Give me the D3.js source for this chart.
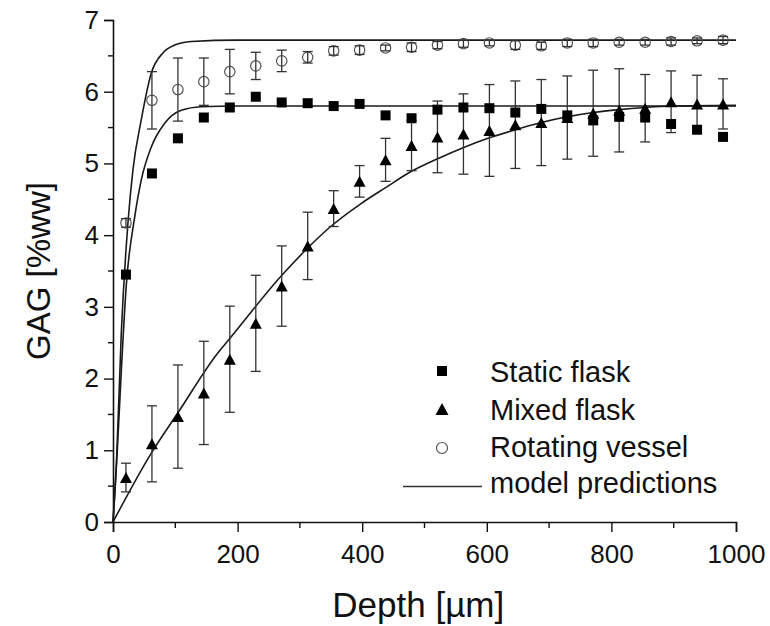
<!DOCTYPE html>
<html>
<head>
<meta charset="utf-8">
<script src="https://cdn.jsdelivr.net/npm/d3@7/dist/d3.min.js"></script>
<style>
  html, body { margin: 0; padding: 0; background: #fff; }
  svg { display: block; }
  text { font-family: "Liberation Sans", Arial, Helvetica, sans-serif; fill: #111; }
</style>
</head>
<body>
<svg id="chart" width="770" height="626"></svg>
<script>
// Depth of each measured slice [µm]
const depth = [20.8, 62.5, 104.2, 145.8, 187.5, 229.2, 270.8, 312.5, 354.2, 395.8, 437.5, 479.2,
               520.8, 562.5, 604.2, 645.8, 687.5, 729.2, 770.8, 812.5, 854.2, 895.8, 937.5, 979.2];

// GAG content [%ww] per slice
const staticFlask = [3.45, 4.86, 5.35, 5.64, 5.78, 5.93, 5.85, 5.84, 5.80, 5.83, 5.67, 5.63,
                     5.75, 5.78, 5.77, 5.71, 5.76, 5.67, 5.60, 5.65, 5.64, 5.55, 5.47, 5.37];

const mixedFlask = [0.62, 1.09, 1.47, 1.80, 2.27, 2.77, 3.29, 3.85, 4.37, 4.75, 5.05, 5.25,
                    5.37, 5.41, 5.46, 5.54, 5.57, 5.64, 5.70, 5.74, 5.77, 5.86, 5.83, 5.83];
const mixedErr   = [0.20, 0.53, 0.72, 0.72, 0.74, 0.67, 0.56, 0.47, 0.25, 0.22, 0.30, 0.35,
                    0.50, 0.56, 0.64, 0.61, 0.60, 0.58, 0.60, 0.58, 0.47, 0.43, 0.40, 0.35];

const rotatingVessel = [4.17, 5.88, 6.03, 6.14, 6.28, 6.36, 6.43, 6.48, 6.57, 6.58, 6.61, 6.62,
                        6.65, 6.67, 6.68, 6.65, 6.64, 6.68, 6.68, 6.69, 6.69, 6.70, 6.71, 6.72];
const rotatingErr    = [0.06, 0.40, 0.44, 0.33, 0.31, 0.19, 0.15, 0.08, 0.06, 0.06, 0.04, 0.06,
                        0.05, 0.05, 0.04, 0.06, 0.05, 0.05, 0.05, 0.04, 0.04, 0.05, 0.04, 0.05];

// Model prediction curves: [depth, GAG]
const modelStatic = [[0, 0], [6.9, 1.0], [13.3, 2.1], [21.3, 3.3], [34.8, 4.25], [45.4, 4.77],
                     [61.5, 5.23], [83, 5.56], [109.6, 5.74], [141.7, 5.79], [200, 5.80], [1000, 5.80]];
const modelRotating = [[0, 0], [5.3, 0.77], [13.3, 2.63], [24, 4.17], [32, 4.91], [45.4, 5.61],
                       [61.5, 6.26], [80, 6.54], [99, 6.65], [125.7, 6.70], [200, 6.72], [1000, 6.72]];
const modelMixed = [[0, 0], [61.5, 0.96], [104, 1.52], [168.5, 2.36], [187.5, 2.56], [271, 3.44],
                    [312.5, 3.82], [348, 4.11], [396.5, 4.43], [439, 4.67], [479, 4.89], [522, 5.07],
                    [562, 5.22], [602, 5.35], [646, 5.47], [687.5, 5.57], [729, 5.65], [771, 5.71],
                    [812, 5.75], [854, 5.78], [896, 5.80], [1000, 5.81]];

const xTicks = [0, 200, 400, 600, 800, 1000];
const yTicks = [0, 1, 2, 3, 4, 5, 6, 7];

const legendLabels = ["Static flask", "Mixed flask", "Rotating vessel", "model predictions"];

const svg = d3.select("#chart");
const x = d3.scaleLinear().domain([0, 1000]).range([113, 736]);
const y = d3.scaleLinear().domain([0, 7]).range([522, 20]);

const ink = "#111";

// Axes (left and bottom only, outward ticks with minor ticks)
const xAxisG = svg.append("g").attr("transform", `translate(0,${y(0)})`);
xAxisG.call(d3.axisBottom(x).tickValues(xTicks).tickFormat(d3.format("d")).tickSize(10).tickPadding(13));
xAxisG.selectAll(".minor").data(d3.range(100, 1000, 200)).enter().append("line")
  .attr("x1", d => x(d)).attr("x2", d => x(d)).attr("y1", 0).attr("y2", 6)
  .attr("stroke", ink).attr("stroke-width", 1.4);

const yAxisG = svg.append("g").attr("transform", `translate(${x(0)},0)`);
yAxisG.call(d3.axisLeft(y).tickValues(yTicks).tickFormat(d3.format("d")).tickSize(9).tickPadding(5));
yAxisG.selectAll(".minor").data(d3.range(0.5, 7, 1)).enter().append("line")
  .attr("y1", d => y(d)).attr("y2", d => y(d)).attr("x1", 0).attr("x2", -5)
  .attr("stroke", ink).attr("stroke-width", 1.4);

[xAxisG, yAxisG].forEach(g => {
  g.select(".domain").attr("stroke", ink).attr("stroke-width", 1.6);
  g.selectAll(".tick line").attr("stroke", ink).attr("stroke-width", 1.4);
  g.selectAll(".tick text").attr("font-size", 26).attr("fill", ink)
    .attr("font-family", "'Liberation Sans', Arial, sans-serif");
});

// Axis titles
svg.append("text").attr("x", x(490)).attr("y", 617).attr("text-anchor", "middle")
  .attr("font-size", 35).text("Depth [µm]");
svg.append("text").attr("transform", `translate(50,${y(3.5)}) rotate(-90)`)
  .attr("text-anchor", "middle").attr("font-size", 33).text("GAG [%ww]");

// Model prediction curves
const line = d3.line().x(d => x(d[0])).y(d => y(d[1])).curve(d3.curveMonotoneX);
[modelStatic, modelRotating, modelMixed].forEach(pts => {
  svg.append("path").attr("d", line(pts)).attr("fill", "none")
    .attr("stroke", "#1a1a1a").attr("stroke-width", 1.6);
});

// Error bars
function errorBars(vals, errs) {
  const g = svg.append("g").attr("stroke", "#333").attr("stroke-width", 1.3).attr("fill", "none");
  vals.forEach((v, i) => {
    const cx = x(depth[i]), top = y(v + errs[i]), bot = y(v - errs[i]);
    g.append("line").attr("x1", cx).attr("x2", cx).attr("y1", top).attr("y2", bot);
    g.append("line").attr("x1", cx - 5).attr("x2", cx + 5).attr("y1", top).attr("y2", top);
    g.append("line").attr("x1", cx - 5).attr("x2", cx + 5).attr("y1", bot).attr("y2", bot);
  });
}

// Marker shapes
const trianglePath = (cx, cy, w, h) =>
  `M${cx},${cy - h / 2}L${cx + w / 2},${cy + h / 2}L${cx - w / 2},${cy + h / 2}Z`;

function squares(g, pts, s) {
  g.selectAll(null).data(pts).enter().append("rect")
    .attr("x", d => d[0] - s / 2).attr("y", d => d[1] - s / 2)
    .attr("width", s).attr("height", s).attr("fill", "#000");
}
function triangles(g, pts, w, h) {
  g.selectAll(null).data(pts).enter().append("path")
    .attr("d", d => trianglePath(d[0], d[1], w, h)).attr("fill", "#000");
}
function circles(g, pts, r) {
  g.selectAll(null).data(pts).enter().append("circle")
    .attr("cx", d => d[0]).attr("cy", d => d[1]).attr("r", r)
    .attr("fill", "none").attr("stroke", "#555").attr("stroke-width", 1.2);
}

errorBars(mixedFlask, mixedErr);

const marks = svg.append("g");
circles(marks, rotatingVessel.map((v, i) => [x(depth[i]), y(v)]), 5.2);
errorBars(rotatingVessel, rotatingErr);
const marks2 = svg.append("g");
triangles(marks2, mixedFlask.map((v, i) => [x(depth[i]), y(v)]), 12, 11);
squares(marks2, staticFlask.map((v, i) => [x(depth[i]), y(v)]), 10);

// Legend
const lg = svg.append("g");
const lx = 442, tx = 490, baselines = [382, 420, 457, 493];
squares(lg, [[lx, baselines[0] - 11]], 10);
triangles(lg, [[lx, baselines[1] - 11]], 13, 12);
circles(lg, [[lx, baselines[2] - 9]], 5.5);
lg.append("line").attr("x1", 403).attr("x2", 482)
  .attr("y1", baselines[3] - 6.5).attr("y2", baselines[3] - 6.5)
  .attr("stroke", "#333").attr("stroke-width", 1.4);
lg.selectAll(null).data(legendLabels).enter().append("text")
  .attr("x", tx).attr("y", (d, i) => baselines[i]).attr("font-size", 29).text(d => d);
</script>
</body>
</html>
